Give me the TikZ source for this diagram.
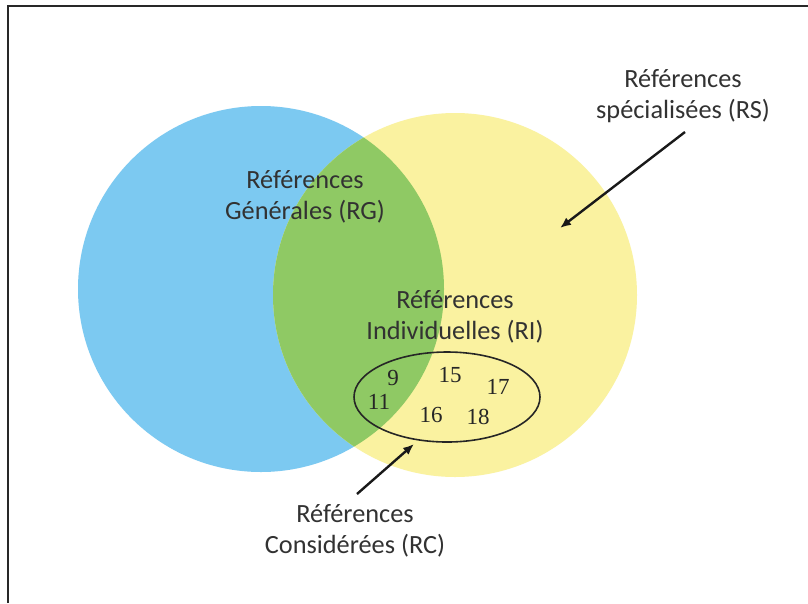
\documentclass[tikz,border=0pt]{standalone}
\usepackage{fontspec}
\setmainfont{Carlito}
\newfontfamily\numfont{Liberation Serif}
\usetikzlibrary{shapes.geometric,arrows.meta}
\definecolor{rgblue}{RGB}{124,201,241}
\definecolor{rsyellow}{RGB}{250,242,160}
\definecolor{rigreen}{RGB}{143,201,100}
\definecolor{txtgray}{RGB}{50,50,50}
\definecolor{framegray}{RGB}{40,40,40}
\tikzset{
  lbl/.style={align=center, inner sep=0pt, text=txtgray, font=\fontsize{26.3}{31}\selectfont},
  num/.style={inner sep=0pt, text=black!85, font=\numfont\fontsize{23}{25}\selectfont},
  pointer/.style={draw=black!90, line width=2.4pt, -{Latex[length=11pt,width=9pt]}},
  rcellipse/.style={ellipse, draw=black!85, line width=1.6pt, minimum width=186pt, minimum height=90pt, inner sep=0pt}
}
\begin{document}
\begin{tikzpicture}[x=1pt,y=-1pt]
\useasboundingbox (0,0) rectangle (808,603);
\fill[white] (0,0) rectangle (808,603);
% frame
\draw[framegray, line width=2pt] (8,603) -- (8,6) -- (808,6);
% circles
\fill[rgblue] (261,289) circle (183);
\fill[rsyellow] (455,295) circle (182);
\begin{scope}
  \clip (261,289) circle (183);
  \fill[rigreen] (455,295) circle (182);
\end{scope}
% considered ellipse
\node[rcellipse] (rcell) at (447,397) {};
% labels
\node[lbl] (rg) at (305,197) {Références\\Générales (RG)};
\node[lbl] (ri) at (455,317) {Références\\Individuelles (RI)};
\node[lbl] (rs) at (683,96) {Références\\spécialisées (RS)};
\node[lbl] (rc) at (355,531) {Références\\Considérées (RC)};
% numbers
\node[num] (n9) at (393,378) {9};
\node[num] (n15) at (450,375) {15};
\node[num] (n17) at (498,387) {17};
\node[num] (n11) at (379,402) {11};
\node[num] (n16) at (431,415) {16};
\node[num] (n18) at (478,417) {18};
% arrows
\coordinate (rsstart) at (685,132);
\coordinate (rsend) at (560,228);
\coordinate (rcstart) at (357,494);
\coordinate (rcend) at (414,444);
\draw[pointer] (rsstart) -- (rsend);
\draw[pointer] (rcstart) -- (rcend);
\end{tikzpicture}
\end{document}
